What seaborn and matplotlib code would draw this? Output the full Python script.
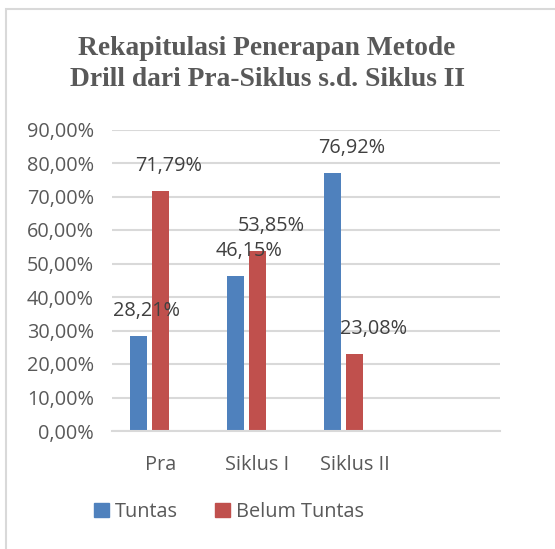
import matplotlib
matplotlib.use("Agg")
import matplotlib.pyplot as plt
import matplotlib.patches as mpatches
import seaborn as sns
import pandas as pd

categories = ["Pra", "Siklus I", "Siklus II", ""]
series = ["Tuntas", "Belum Tuntas", " "]
tuntas = [28.21, 46.15, 76.92]
belum_tuntas = [71.79, 53.85, 23.08]
yticks = [0, 10, 20, 30, 40, 50, 60, 70, 80, 90]
title = "Rekapitulasi Penerapan Metode\nDrill dari Pra-Siklus s.d. Siklus II"

rows = []
for c, v in zip(categories, tuntas):
    rows.append({"kategori": c, "seri": "Tuntas", "nilai": v / 100})
for c, v in zip(categories, belum_tuntas):
    rows.append({"kategori": c, "seri": "Belum Tuntas", "nilai": v / 100})
df = pd.DataFrame(rows)

sns.set_theme(style="white")
plt.rcParams['font.family'] = ['Open Sans', 'DejaVu Sans']

TXT = "#595959"
GRID = "#d9d9d9"
FS = 14.3
colors = {"Tuntas": "#4F81BD", "Belum Tuntas": "#C0504D", " ": "#9BBB59"}

fig = plt.figure(figsize=(5.55, 5.49), dpi=100)
ax = fig.add_axes([112/555, 1 - 431/549, (500 - 112)/555, (431 - 129.5)/549])

sns.barplot(data=df, x="kategori", y="nilai", hue="seri", order=categories,
            hue_order=series, palette=colors, width=0.68, gap=0.21,
            ax=ax, legend=False, errorbar=None, linewidth=0, saturation=1)

ax.set_ylim(0, 0.9)
ax.set_xlim(-0.5, len(categories) - 0.5)
ax.set_yticks([t / 100 for t in yticks])
ax.set_yticklabels([f"{t:.2f}".replace(".", ",") + "%" for t in yticks],
                   fontsize=FS, color=TXT)
ax.tick_params(axis="x", labelsize=FS, labelcolor=TXT, pad=17, length=0)
ax.tick_params(axis="y", pad=13, length=0)
ax.set_xlabel("")
ax.set_ylabel("")
ax.grid(axis="y", color=GRID, linewidth=1.5)
ax.set_axisbelow(True)
for s in ["top", "right", "left"]:
    ax.spines[s].set_visible(False)
ax.spines["bottom"].set_color(GRID)
ax.spines["bottom"].set_linewidth(1.5)

# data labels
for si, cont in enumerate(ax.containers[:2]):
    for ci, bar in enumerate(cont):
        h = bar.get_height()
        if h != h or h == 0:
            continue
        cx = bar.get_x() + bar.get_width() / 2
        dx = (8 + 5.7 * ci) * 0.72
        ax.annotate(f"{h*100:.2f}".replace(".", ",") + "%", xy=(cx, h),
                    xytext=(dx, 25 * 0.72), textcoords="offset points",
                    ha="center", va="center", fontsize=FS, color="#404040")

fig.text(267/555, 1 - 64/549, title, ha="center", va="center",
         fontsize=19.8, fontweight="bold", family="Liberation Serif",
         color=TXT, linespacing=1.32)

handles = [mpatches.Patch(color=colors["Tuntas"], label="Tuntas"),
           mpatches.Patch(color=colors["Belum Tuntas"], label="Belum Tuntas")]
fig.legend(handles=handles, loc="center", bbox_to_anchor=(229/555, 1 - 512/549),
           ncol=2, frameon=False, fontsize=FS, labelcolor=TXT,
           handlelength=0.72, handleheight=0.72, handletextpad=0.3,
           columnspacing=1.9)

fig.patches.append(mpatches.Rectangle((6/555, -0.1), 1.2, (1 - 9/549) + 0.1,
                                      transform=fig.transFigure, fill=False,
                                      edgecolor=GRID, linewidth=1.5))

fig.savefig("out.png", dpi=100, facecolor="white")
